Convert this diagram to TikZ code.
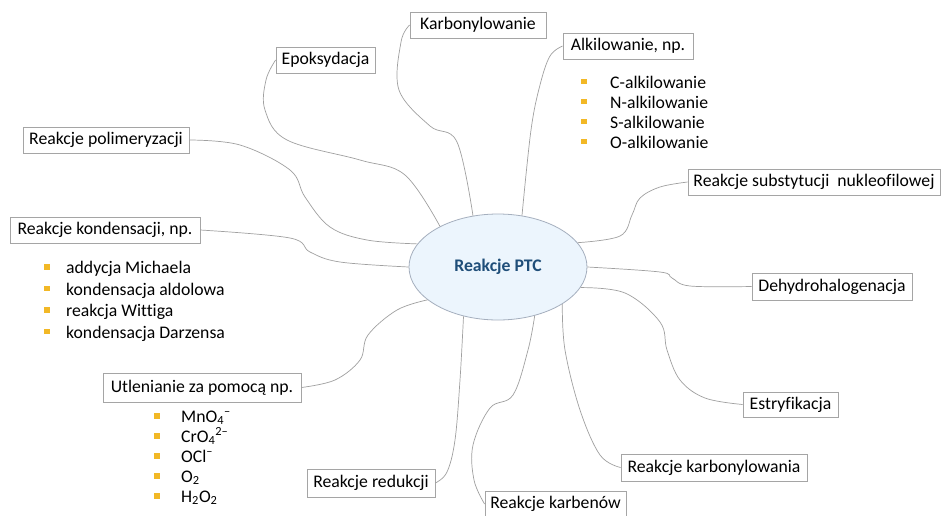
\documentclass[tikz,border=0pt]{standalone}
\usepackage{fontspec}
\setmainfont{Carlito}[Ligatures=NoCommon]
\usetikzlibrary{shapes.geometric}
\definecolor{linegray}{RGB}{160,160,160}
\definecolor{boxgray}{RGB}{165,165,165}
\definecolor{ellfill}{RGB}{236,245,253}
\definecolor{elldraw}{RGB}{165,175,190}
\definecolor{ptcblue}{RGB}{31,78,121}
\definecolor{bulletgold}{RGB}{242,184,38}
\newcommand\fs{\fontsize{17.7}{21}\selectfont}
\begin{document}
\begin{tikzpicture}[x=1pt,y=-1pt,
  box/.style={draw=boxgray, line width=0.8pt, fill=white, inner sep=0pt, font=\fs, align=center},
  conn/.style={draw=linegray, line width=0.7pt},
  sq/.style={fill=bulletgold, minimum size=5.5pt, inner sep=0pt},
  item/.style={anchor=base west, inner sep=0pt, font=\fs}]
\useasboundingbox (0,0) rectangle (943,515);
\fill[white] (0,0) rectangle (943,515);

% centre
\node[ellipse, draw=elldraw, line width=0.8pt, fill=ellfill, minimum width=178pt, minimum height=106pt, inner sep=0pt,
      font=\fs\bfseries, text=ptcblue] (ptc) at (498,267) {Reakcje PTC};

% boxes
\node[box, minimum width=136pt, minimum height=26pt] (karb) at (478,25) {Karbonylowanie};
\node[box, minimum width=99pt, minimum height=26pt] (epok) at (325.5,60) {Epoksydacja};
\node[box, minimum width=130pt, minimum height=26pt] (alk) at (628,46) {Alkilowanie, np.};
\node[box, minimum width=252pt, minimum height=26pt] (subst) at (814,182) {Reakcje substytucji\ \ nukleofilowej};
\node[box, minimum width=160pt, minimum height=27pt] (dehy) at (832,286.5) {Dehydrohalogenacja};
\node[box, minimum width=95pt, minimum height=25pt] (estr) at (790.5,404.5) {Estryfikacja};
\node[box, minimum width=186pt, minimum height=27pt] (karbl) at (714,467.5) {Reakcje karbonylowania};
\node[box, minimum width=141pt, minimum height=26pt] (karben) at (555.5,504) {Reakcje karbenów};
\node[box, minimum width=128pt, minimum height=28pt] (red) at (371,483) {Reakcje redukcji};
\node[box, minimum width=198pt, minimum height=29pt] (utl) at (202,387.5) {Utlenianie za pomocą np.};
\node[box, minimum width=166pt, minimum height=26pt] (polim) at (106,140) {Reakcje polimeryzacji};
\node[box, minimum width=190pt, minimum height=26pt] (kond) at (105,230) {Reakcje kondensacji, np.};

% bullet lists
\foreach \t [count=\i] in {C-alkilowanie, N-alkilowanie, S-alkilowanie, O-alkilowanie} {
  \node[sq] (alkb\i) at (584,{81.5+20*(\i-1)}) {};
  \node[item] (alkt\i) at (610,{88+20*(\i-1)}) {\t};
}
\foreach \t [count=\i] in {addycja Michaela, kondensacja aldolowa, reakcja Wittiga, kondensacja Darzensa} {
  \node[sq] (kondb\i) at (47,{267+21.5*(\i-1)}) {};
  \node[item] (kondt\i) at (66,{273.5+21.5*(\i-1)}) {\t};
}
\foreach \t [count=\i] in {{MnO\textsubscript{4}\textsuperscript{–}}, {CrO\textsubscript{4}\textsuperscript{2–}}, {OCl\textsuperscript{–}}, {O\textsubscript{2}}, {H\textsubscript{2}O\textsubscript{2}}} {
  \node[sq] (utlb\i) at (157,{416+20*(\i-1)}) {};
  \node[item] (utlt\i) at (181,{422+20*(\i-1)}) {\t};
}

% connectors
\draw[conn] plot[smooth, tension=0.6] coordinates {(karb.west) (401,42) (399,90) (430,126) (457,142) (ptc.116)};
\draw[conn] plot[smooth, tension=0.6] coordinates {(epok.west) (266,80) (265,110) (287,140) (360,160) (405,175) (ptc.145)};
\draw[conn] plot[smooth, tension=0.6] coordinates {(alk.west) (550,56) (540,85) (531,130) (ptc.65)};
\draw[conn] plot[smooth, tension=0.6] coordinates {(polim.east) (240,145) (290,170) (305,197) (330,227) (367,240) (ptc.164)};
\draw[conn] plot[smooth, tension=0.6] coordinates {(kond.east) (290,238) (310,252) (340,262) (ptc.180)};
\draw[conn] plot[smooth, tension=0.6] coordinates {(utl.east) (335,380) (360,360) (368,335) (397,310) (ptc.205)};
\draw[conn] plot[smooth, tension=0.6] coordinates {(red.east) (447,472) (455,440) (460,380) (ptc.235)};
\draw[conn] plot[smooth, tension=0.6] coordinates {(karben.west) (474,480) (473,445) (490,408) (513,395) (528,350) (ptc.307)};
\draw[conn] plot[smooth, tension=0.6] coordinates {(karbl.west) (600,455) (580,410) (565,350) (ptc.330)};
\draw[conn] plot[smooth, tension=0.6] coordinates {(estr.west) (705,398) (680,380) (667,350) (660,322) (625,293) (ptc.346.8)};
\draw[conn] plot[smooth, tension=0.6] coordinates {(dehy.west) (690,286) (672,278) (660,272) (ptc.0)};
\draw[conn] plot[smooth, tension=0.6] coordinates {(subst.west) (660,187) (640,198) (632,215) (620,236) (ptc.17.6)};
\end{tikzpicture}
\end{document}
